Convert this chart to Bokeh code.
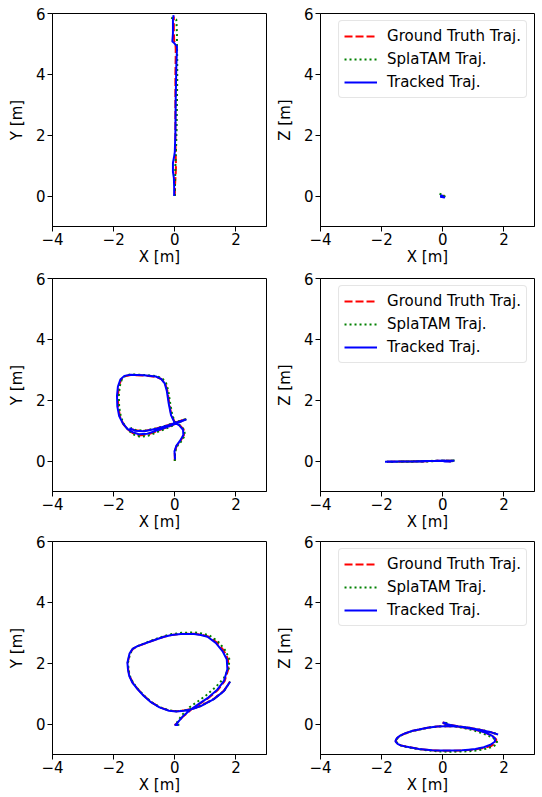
from bokeh.plotting import figure
from bokeh.layouts import column, row
from bokeh.models import FixedTicker, ColumnDataSource
from bokeh.embed import file_html
from bokeh.resources import INLINE

# ---------------- data (metres) ----------------
# Scene 1
s1_gt_x = [0.00, 0.01, 0.03, 0.04, 0.03, 0.02, 0.02, 0.02, 0.03, 0.03, 0.02, -0.02, -0.03, -0.03, -0.03]
s1_gt_y = [0.00, 0.40, 0.75, 1.00, 1.30, 2.00, 3.00, 4.00, 4.60, 4.85, 5.00, 5.10, 5.40, 5.70, 5.90]
s1_gt_z = [0.00, 0.01, 0.01, 0.00, -0.01, -0.02, -0.03, -0.04, -0.04, -0.04, -0.03, -0.02, -0.01, 0.00, 0.01]

s1_spl_x = [0.00, 0.01, 0.02, 0.04, 0.06, 0.07, 0.08, 0.08, 0.07, 0.07, 0.06, 0.05, -0.12]
s1_spl_y = [0.00, 0.50, 1.00, 1.50, 2.20, 3.00, 3.80, 4.50, 5.00, 5.30, 5.60, 5.80, 5.86]
s1_spl_z = [0.00, 0.00, -0.01, -0.02, -0.04, -0.06, -0.07, -0.08, -0.06, -0.04, -0.02, 0.02, 0.08]

s1_trk_x = [-0.02, -0.02, -0.03, -0.06, -0.06, -0.03, 0.00, 0.02, 0.03, 0.05, 0.07, 0.07, -0.04, -0.08, -0.06, -0.06, -0.04]
s1_trk_y = [0.00, 0.30, 0.60, 0.80, 1.10, 1.25, 1.44, 2.09, 3.18, 4.26, 4.80, 4.92, 5.05, 5.08, 5.35, 5.79, 5.95]
s1_trk_z = [0.00, 0.01, 0.02, 0.02, 0.01, 0.00, -0.01, -0.02, -0.03, -0.04, -0.05, -0.05, -0.03, -0.02, -0.01, 0.00, 0.01]

# Scene 2
s2_gt_x = [0.00, 0.00, 0.06, 0.20, 0.30, 0.29, 0.17, 0.00, -0.11, -0.18, -0.24, -0.31, -0.43, -0.61, -1.02,
           -1.44, -1.63, -1.76, -1.83, -1.86, -1.85, -1.79, -1.68, -1.53, -1.37, -1.17, -0.90, -0.60, -0.30, -0.08,
           0.20, 0.36, 0.15, -0.20, -0.60, -1.00, -1.30, -1.46]
s2_gt_y = [0.00, 0.30, 0.50, 0.68, 0.86, 1.04, 1.17, 1.28, 1.50, 1.90, 2.30, 2.54, 2.69, 2.77, 2.81,
           2.83, 2.79, 2.67, 2.45, 2.15, 1.80, 1.46, 1.21, 1.03, 0.92, 0.84, 0.87, 0.98, 1.09, 1.18,
           1.31, 1.38, 1.31, 1.19, 1.07, 0.99, 1.01, 1.08]
s2_gt_z = [0.00, 0.00, 0.00, -0.01, -0.01, 0.00, 0.00, 0.01, 0.01, 0.01, 0.00, 0.00, 0.00, -0.01, -0.01,
           -0.02, -0.02, -0.02, -0.02, -0.02, -0.02, -0.02, -0.02, -0.01, -0.01, -0.01, -0.01, 0.00, 0.00, 0.00,
           0.01, 0.01, 0.01, 0.00, 0.00, -0.01, -0.01, -0.01]

s2_spl_x = [0.00, 0.01, 0.08, 0.22, 0.33, 0.31, 0.19, 0.02, -0.08, -0.15, -0.21, -0.28, -0.40, -0.59, -1.00,
            -1.42, -1.61, -1.73, -1.80, -1.83, -1.82, -1.76, -1.65, -1.50, -1.34, -1.14, -0.88, -0.58, -0.28, -0.06,
            0.22, 0.40, 0.17, -0.18, -0.58, -0.98, -1.28, -1.44]
s2_spl_y = [0.00, 0.30, 0.49, 0.66, 0.84, 1.02, 1.16, 1.27, 1.50, 1.90, 2.30, 2.55, 2.71, 2.79, 2.83,
            2.85, 2.81, 2.69, 2.46, 2.15, 1.78, 1.44, 1.18, 0.99, 0.87, 0.80, 0.83, 0.95, 1.07, 1.17,
            1.31, 1.39, 1.32, 1.20, 1.08, 1.00, 1.02, 1.09]
s2_spl_z = [0.00, 0.00, 0.01, 0.00, -0.01, 0.00, 0.01, 0.01, 0.02, 0.01, 0.00, 0.00, -0.01, -0.01, -0.02,
            -0.02, -0.03, -0.03, -0.02, -0.02, -0.02, -0.02, -0.02, -0.02, -0.01, -0.01, -0.01, 0.00, 0.01, 0.00,
            0.01, 0.02, 0.01, 0.00, 0.00, -0.01, -0.01, -0.01]

s2_trk_x = [0.01, -0.01, 0.05, 0.18, 0.28, 0.27, 0.16, -0.01, -0.12, -0.20, -0.26, -0.33, -0.45, -0.62, -1.02,
            -1.45, -1.65, -1.78, -1.86, -1.89, -1.88, -1.82, -1.70, -1.55, -1.38, -1.18, -0.90, -0.60, -0.30, -0.09,
            0.20, 0.38, 0.15, -0.20, -0.60, -1.00, -1.30, -1.48]
s2_trk_y = [0.05, 0.32, 0.50, 0.68, 0.86, 1.03, 1.16, 1.27, 1.50, 1.90, 2.30, 2.55, 2.70, 2.78, 2.82,
            2.84, 2.80, 2.68, 2.45, 2.15, 1.80, 1.48, 1.24, 1.06, 0.95, 0.88, 0.90, 1.00, 1.10, 1.18,
            1.30, 1.37, 1.30, 1.18, 1.06, 0.98, 1.00, 1.08]
s2_trk_z = [0.00, 0.00, -0.01, -0.01, -0.01, 0.00, 0.00, 0.01, 0.01, 0.01, 0.00, 0.00, 0.00, -0.01, -0.01,
            -0.01, -0.01, -0.01, -0.02, -0.02, -0.02, -0.02, -0.02, -0.02, -0.01, -0.01, -0.01, 0.00, 0.00, 0.00,
            0.01, 0.01, 0.01, 0.00, 0.00, -0.01, -0.01, -0.01]

# Scene 3
s3_gt_x = [0.10, 0.00, 0.04, 0.25, 0.53, 0.81, 1.08, 1.41, 1.63, 1.75, 1.74, 1.60, 1.37, 1.09, 0.86,
           0.64, 0.20, -0.10, -0.35, -0.78, -1.21, -1.37, -1.47, -1.54, -1.52, -1.48, -1.37, -1.21, -1.01, -0.77,
           -0.49, -0.19, 0.05, 0.30, 0.60, 0.85, 1.28, 1.61, 1.80]
s3_gt_y = [-0.03, -0.03, 0.00, 0.23, 0.47, 0.66, 0.84, 1.12, 1.41, 1.80, 2.14, 2.42, 2.69, 2.88, 2.94,
           2.97, 2.96, 2.93, 2.87, 2.72, 2.56, 2.47, 2.32, 2.02, 1.78, 1.58, 1.35, 1.15, 0.93, 0.72,
           0.55, 0.45, 0.42, 0.45, 0.51, 0.60, 0.83, 1.10, 1.39]
s3_gt_z = [0.03, 0.05, 0.02, -0.03, -0.08, -0.14, -0.19, -0.29, -0.40, -0.51, -0.61, -0.71, -0.78, -0.83, -0.85,
           -0.87, -0.88, -0.88, -0.86, -0.82, -0.74, -0.70, -0.65, -0.57, -0.51, -0.45, -0.37, -0.30, -0.23, -0.18,
           -0.12, -0.08, -0.07, -0.07, -0.09, -0.12, -0.20, -0.28, -0.34]

s3_spl_x = [0.15, 0.05, 0.05, 0.22, 0.48, 0.76, 1.02, 1.34, 1.60, 1.77, 1.78, 1.64, 1.41, 1.12, 0.88,
            0.66, 0.22, -0.08, -0.33, -0.77, -1.20, -1.36, -1.46, -1.53, -1.51, -1.47, -1.36, -1.20, -1.00, -0.76,
            -0.48, -0.18, 0.06, 0.31, 0.61, 0.86, 1.29, 1.62, 1.81]
s3_spl_y = [-0.02, -0.02, 0.02, 0.28, 0.55, 0.75, 0.94, 1.22, 1.50, 1.84, 2.16, 2.44, 2.72, 2.92, 2.98,
            3.01, 3.00, 2.96, 2.90, 2.74, 2.57, 2.48, 2.32, 2.02, 1.78, 1.58, 1.35, 1.15, 0.93, 0.72,
            0.55, 0.45, 0.42, 0.45, 0.51, 0.60, 0.83, 1.10, 1.40]
s3_spl_z = [0.03, 0.05, 0.02, -0.03, -0.09, -0.15, -0.21, -0.32, -0.43, -0.55, -0.65, -0.74, -0.81, -0.87, -0.89,
            -0.90, -0.91, -0.90, -0.88, -0.83, -0.75, -0.71, -0.65, -0.57, -0.51, -0.45, -0.37, -0.30, -0.23, -0.18,
            -0.12, -0.08, -0.07, -0.07, -0.09, -0.12, -0.20, -0.28, -0.34]

s3_trk_x = [0.12, 0.00, 0.05, 0.25, 0.52, 0.80, 1.07, 1.39, 1.61, 1.72, 1.70, 1.56, 1.34, 1.07, 0.85,
            0.63, 0.20, -0.10, -0.35, -0.78, -1.22, -1.38, -1.48, -1.55, -1.53, -1.49, -1.38, -1.22, -1.02, -0.78,
            -0.50, -0.19, 0.05, 0.30, 0.60, 0.85, 1.28, 1.61, 1.81]
s3_trk_y = [-0.03, -0.03, 0.00, 0.24, 0.48, 0.67, 0.85, 1.13, 1.42, 1.80, 2.13, 2.40, 2.67, 2.87, 2.93,
            2.96, 2.96, 2.93, 2.87, 2.72, 2.56, 2.47, 2.32, 2.02, 1.78, 1.58, 1.35, 1.15, 0.93, 0.72,
            0.55, 0.44, 0.41, 0.44, 0.50, 0.59, 0.82, 1.09, 1.39]
s3_trk_z = [0.03, 0.05, 0.02, -0.03, -0.08, -0.13, -0.18, -0.28, -0.38, -0.48, -0.58, -0.68, -0.76, -0.82, -0.84,
            -0.86, -0.87, -0.87, -0.86, -0.82, -0.74, -0.70, -0.65, -0.57, -0.51, -0.45, -0.37, -0.30, -0.23, -0.18,
            -0.12, -0.08, -0.07, -0.07, -0.09, -0.12, -0.20, -0.28, -0.34]

x_ticks = [-4, -2, 0, 2]
y_ticks = [0, 2, 4, 6]
legend_labels = ["Ground Truth Traj.", "SplaTAM Traj.", "Tracked Traj."]

scenes = [
    ((s1_gt_x, s1_gt_y, s1_gt_z), (s1_spl_x, s1_spl_y, s1_spl_z), (s1_trk_x, s1_trk_y, s1_trk_z)),
    ((s2_gt_x, s2_gt_y, s2_gt_z), (s2_spl_x, s2_spl_y, s2_spl_z), (s2_trk_x, s2_trk_y, s2_trk_z)),
    ((s3_gt_x, s3_gt_y, s3_gt_z), (s3_spl_x, s3_spl_y, s3_spl_z), (s3_trk_x, s3_trk_y, s3_trk_z)),
]

FONT = "DejaVu Sans"
FS = "15px"
STYLES = [
    dict(line_color="#ff0000", line_width=2, line_dash="8 3"),
    dict(line_color="#008000", line_width=2, line_dash="2 3"),
    dict(line_color="#0000ff", line_width=2),
]

ROW_TOP = [13, 10, 8]
ROW_H = [268, 265, 263]


def make_fig(r, right, ylabel):
    width = 272 if right else 268
    p = figure(width=width, height=ROW_H[r], x_range=(-4, 3), y_range=(-1, 6),
               output_backend="svg", toolbar_location=None,
               min_border_left=52, min_border_right=6 if right else 2,
               min_border_top=ROW_TOP[r], min_border_bottom=41,
               background_fill_color="white", border_fill_color="white")
    p.xgrid.visible = False
    p.ygrid.visible = False
    p.outline_line_color = "black"
    p.outline_line_width = 1
    p.outline_line_alpha = 1
    p.xaxis.ticker = FixedTicker(ticks=x_ticks)
    p.yaxis.ticker = FixedTicker(ticks=y_ticks)
    p.xaxis.major_label_overrides = {t: (str(t).replace("-", "\u2212")) for t in x_ticks}
    p.xaxis.axis_label = "X [m]"
    p.yaxis.axis_label = ylabel
    for ax in (p.xaxis[0], p.yaxis[0]):
        ax.axis_label_text_font = FONT
        ax.axis_label_text_font_size = FS
        ax.axis_label_text_font_style = "normal"
        ax.axis_label_text_color = "black"
        ax.major_label_text_font = FONT
        ax.major_label_text_font_size = FS
        ax.major_label_text_color = "black"
        ax.major_tick_in = 0
        ax.major_tick_out = 5
        ax.minor_tick_in = 0
        ax.minor_tick_out = 0
        ax.axis_line_color = "black"
        ax.major_tick_line_color = "black"
    p.xaxis.major_label_standoff = 1
    p.yaxis.major_label_standoff = 2
    p.xaxis.axis_label_standoff = 0
    p.yaxis.axis_label_standoff = 7
    return p


rows = []
for r, scene in enumerate(scenes):
    pxy = make_fig(r, False, "Y [m]")
    pxz = make_fig(r, True, "Z [m]")
    for (xs, ys, zs), st, lab in zip(scene, STYLES, legend_labels):
        src = ColumnDataSource(dict(x=xs, y=ys, z=zs))
        pxy.line("x", "y", source=src, **st)
        pxz.line("x", "z", source=src, legend_label=lab, **st)
    lg = pxz.legend[0]
    lg.location = "top_right"
    lg.margin = 7
    lg.padding = 5
    lg.spacing = 3
    lg.glyph_width = 33
    lg.glyph_height = 20
    lg.label_standoff = 10
    lg.label_height = 20
    lg.label_text_font = FONT
    lg.label_text_font_size = FS
    lg.label_text_color = "black"
    lg.border_line_color = "#cccccc"
    lg.border_line_width = 1
    lg.background_fill_color = "white"
    lg.background_fill_alpha = 0.8
    if "border_radius" in type(lg).properties():
        lg.border_radius = 4
    rows.append(row(pxy, pxz))

layout = column(*rows)
open("out.html", "w").write(file_html(layout, INLINE))
